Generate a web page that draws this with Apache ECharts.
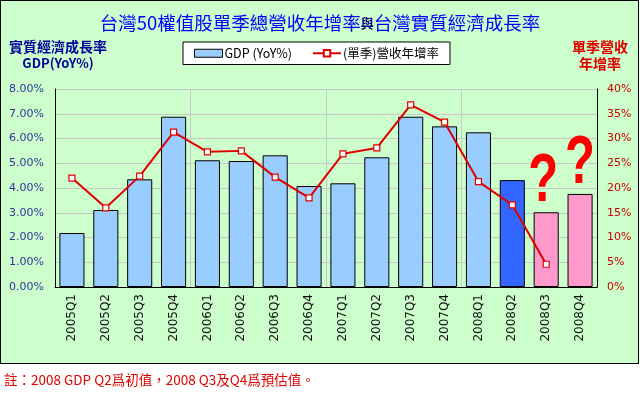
<!DOCTYPE html>
<html><head><meta charset="utf-8">
<script src="https://cdn.jsdelivr.net/npm/echarts@6/dist/echarts.min.js"></script>
<style>
html,body{margin:0;padding:0;background:#fff;}
#wrap{position:relative;width:640px;height:393px;}
#bg{position:absolute;left:0;top:0;width:637px;height:362px;background:#CCFFCC;border:1px solid #000;}
#c{position:absolute;left:0;top:0;width:640px;height:393px;}
#note{position:absolute;left:4px;top:369px;font:13.5px "Noto Sans CJK TC","DejaVu Sans",sans-serif;color:#E00000;}
</style></head>
<body><div id="wrap"><div id="bg"></div><div id="c"></div>
<div id="note">註：2008 GDP Q2爲初值，2008 Q3及Q4爲預估值。</div></div>
<script>
const categories = ['2005Q1','2005Q2','2005Q3','2005Q4','2006Q1','2006Q2','2006Q3','2006Q4','2007Q1','2007Q2','2007Q3','2007Q4','2008Q1','2008Q2','2008Q3','2008Q4'];
const gdpYoY = [2.18, 3.11, 4.35, 6.88, 5.12, 5.09, 5.32, 4.08, 4.19, 5.24, 6.88, 6.49, 6.25, 4.32, 3.02, 3.76];
const revenueYoY = [22.0, 16.0, 22.4, 31.3, 27.3, 27.5, 22.2, 18.0, 26.9, 28.1, 36.8, 33.3, 21.3, 16.6, 4.6, null];
const leftTicks = {min:0, max:8, interval:1};
const rightTicks = {min:0, max:40, interval:5};
const barColors = ['#99CCFF','#99CCFF','#99CCFF','#99CCFF','#99CCFF','#99CCFF','#99CCFF','#99CCFF','#99CCFF','#99CCFF','#99CCFF','#99CCFF','#99CCFF','#3366FF','#FF99CC','#FF99CC'];
const estimated = ['2008Q3','2008Q4'];

const chart = echarts.init(document.getElementById('c'));
const F = 'Verdana, "DejaVu Sans", sans-serif';
const CJK = '"Noto Sans CJK TC", sans-serif';
chart.setOption({
  backgroundColor: 'transparent',
  animation: false,
  title: {
    text: '{a|台灣50權值股單季總營收年增率}{b|與}{a|台灣實質經濟成長率}',
    left: 'center', top: 9,
    textStyle: { rich: {
      a: {fontSize: 18.5, color: '#0000FF', fontFamily: CJK, fontWeight: 'normal'},
      b: {fontSize: 13, color: '#000080', fontFamily: CJK}
    }}
  },
  legend: {
    top: 42, left: 183, itemGap: 20,
    backgroundColor: '#fff', borderColor: '#000', borderWidth: 1, borderRadius: 0,
    padding: [5, 11, 5, 11],
    itemWidth: 28, itemHeight: 8,
    textStyle: {fontSize: 12.5, color: '#000', fontFamily: CJK, padding: [0, 0, 0, -3]},
    data: [
      {name: 'GDP (YoY%)', icon: 'rect', itemStyle: {color: '#99CCFF', borderColor: '#000', borderWidth: 1}},
      {name: '(單季)營收年增率'}
    ]
  },
  grid: {left: 54, right: 43, top: 89, bottom: 106},
  xAxis: {
    type: 'category', data: categories,
    axisLine: {lineStyle: {color: '#000'}},
    axisTick: {show: false},
    axisLabel: {rotate: 90, fontSize: 12, color: '#111', fontFamily: F, margin: 7},
    splitLine: {show: true, interval: function(i){ return i % 4 === 0 && i > 0; }, lineStyle: {color: '#C8C8C8'}}
  },
  yAxis: [
    {type: 'value', min: leftTicks.min, max: leftTicks.max, interval: leftTicks.interval,
     name: '{t|實質經濟成長率}\n{g|GDP(YoY%)}', nameLocation: 'end', nameGap: 17,
     nameTextStyle: {color: '#000099', fontWeight: 'bold', lineHeight: 17, align: 'center', padding: [0, 0, 0, 6], fontFamily: CJK,
       rich: {t: {fontSize: 14, fontWeight: 'bold', color: '#000099', fontFamily: CJK, lineHeight: 17},
              g: {fontSize: 13, fontWeight: 'bold', color: '#000099', fontFamily: CJK, lineHeight: 17}}},
     axisLine: {show: true, lineStyle: {color: '#000'}}, axisTick: {show: false},
     axisLabel: {formatter: v => v.toFixed(2) + '%', color: '#333399', fontSize: 11, fontFamily: F, margin: 11},
     splitLine: {lineStyle: {color: '#C8C8C8'}}},
    {type: 'value', min: rightTicks.min, max: rightTicks.max, interval: rightTicks.interval,
     name: '單季營收\n年增率', nameLocation: 'end', nameGap: 17,
     nameTextStyle: {color: '#E00000', fontWeight: 'bold', fontSize: 14, lineHeight: 17, align: 'center', padding: [0, 0, 0, 6], fontFamily: CJK},
     axisLine: {show: true, lineStyle: {color: '#000'}}, axisTick: {show: false},
     axisLabel: {formatter: v => v + '%', color: '#CC0000', fontSize: 11, fontFamily: F, margin: 10},
     splitLine: {show: false}}
  ],
  series: [
    {name: 'GDP (YoY%)', type: 'bar', yAxisIndex: 0, barCategoryGap: '26%',
     data: gdpYoY.map((v, i) => ({value: v, itemStyle: {color: barColors[i]}})),
     itemStyle: {color: '#99CCFF', borderColor: '#000', borderWidth: 1}},
    {name: '(單季)營收年增率', type: 'line', yAxisIndex: 1, data: revenueYoY,
     symbol: 'rect', symbolSize: 6, showAllSymbol: true,
     lineStyle: {color: '#E00000', width: 2},
     itemStyle: {color: '#fff', borderColor: '#E00000', borderWidth: 1.2}}
  ]
});
// question marks above the estimated bars, positioned through the chart's own scales
const qm = estimated.map((c, k) => {
  const p = chart.convertToPixel({seriesIndex: 0}, [c, gdpYoY[categories.indexOf(c)]]);
  return {type: 'text', x: p[0] - (k === 0 ? 3 : 0), y: p[1] + 4, scaleX: 0.72,
    style: {text: '?', fill: '#FF0000', font: 'bold 68px "Liberation Sans", Arial, sans-serif', textAlign: 'center', textVerticalAlign: 'bottom'}};
});
chart.setOption({graphic: qm});
</script></body></html>
